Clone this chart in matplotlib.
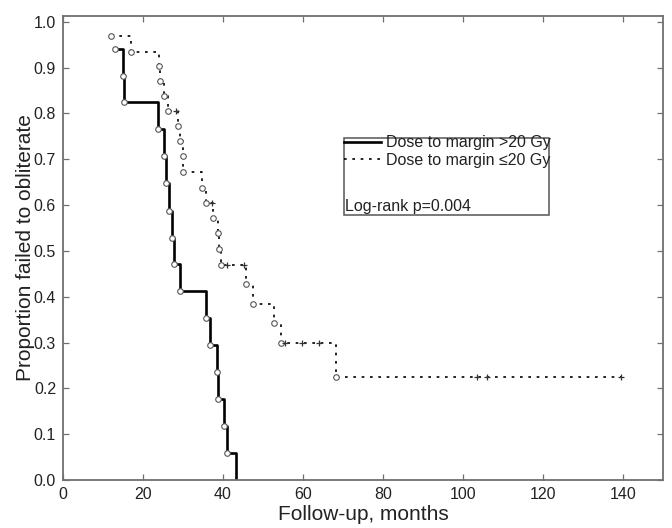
import matplotlib
matplotlib.use('Agg')
import matplotlib.pyplot as plt
from matplotlib.patches import Rectangle
import numpy as np

plt.rcParams['font.family'] = ['Liberation Sans', 'DejaVu Sans']

# dose to margin > 20 Gy: event times (months) and proportion after each event
high_times = [13.0, 15.1, 15.3, 23.8, 25.3, 25.8, 26.5, 27.3, 27.8, 29.3,
              35.8, 36.8, 38.6, 38.8, 40.2, 41.0, 43.2]
high_surv = [0.941, 0.882, 0.824, 0.765, 0.706, 0.647, 0.588, 0.529, 0.471, 0.412,
             0.353, 0.294, 0.235, 0.176, 0.118, 0.059, 0.0]

# dose to margin <= 20 Gy: events
low_times = [11.9, 16.9, 24.0, 24.3, 25.3, 26.3, 28.8, 29.25, 29.9, 30.1,
             34.8, 35.7, 37.6, 38.8, 39.1, 39.5, 45.8, 47.6, 52.75, 54.6, 68.2]
low_surv = [0.968, 0.935, 0.903, 0.871, 0.839, 0.806, 0.773, 0.739, 0.706, 0.672,
            0.638, 0.605, 0.571, 0.538, 0.504, 0.470, 0.427, 0.385, 0.342, 0.299, 0.224]
# censored cases
cens_times = [28.25, 37.2, 40.9, 45.3, 55.4, 59.7, 64.1, 103.4, 106.0, 139.4]
cens_surv = [0.806, 0.605, 0.470, 0.470, 0.299, 0.299, 0.299, 0.224, 0.224, 0.224]

ink = '#222222'
frame = '#707070'

fig = plt.figure(figsize=(6.72, 5.28), dpi=100)
ax = fig.add_axes([63 / 672, 48 / 528, 600 / 672, 464 / 528])

# solid curve
ax.plot(high_times, high_surv, drawstyle='steps-post', color='k', lw=1.9,
        label='Dose to margin >20 Gy')
ax.plot(high_times[:-1], high_surv[:-1], 'o', ls='none', ms=4, mfc='white',
        mec='#555555', mew=0.8)

# dotted curve: merge events and censored points for the step path
t_all = np.concatenate([low_times, cens_times])
s_all = np.concatenate([low_surv, cens_surv])
order = np.lexsort((-s_all, t_all))
ax.plot(t_all[order], s_all[order], drawstyle='steps-post', color='k', lw=1.2,
        dashes=(1.6, 3.4), label='Dose to margin \u226420 Gy')
ax.plot(low_times, low_surv, 'o', ls='none', ms=4, mfc='white',
        mec='#555555', mew=0.8)
ax.plot(cens_times, cens_surv, '+', ls='none', ms=5, color='#333333', mew=0.9)

ax.set_xlim(0, 150)
ax.set_ylim(0, 1.0125)
ax.set_xticks(np.arange(0, 141, 20))
ax.set_yticks(np.round(np.arange(0, 1.01, 0.1), 1))
ax.set_yticklabels(['%.1f' % v for v in np.arange(0, 1.01, 0.1)])

for sp in ax.spines.values():
    sp.set_color(frame)
    sp.set_linewidth(1.3)
ax.tick_params(direction='in', length=4, width=0.9, color=frame,
               top=True, right=True, labelsize=11.5, labelcolor=ink, pad=5)

ax.set_xlabel('Follow-up, months', fontsize=15, color=ink)
ax.set_ylabel('Proportion failed to obliterate', fontsize=15, color=ink)
ax.xaxis.set_label_coords(0.5, -0.075)
ax.yaxis.set_label_coords(-0.063, 0.5)
ax.xaxis.label.set_va('center')
ax.yaxis.label.set_va('center')

# legend box
ax.add_patch(Rectangle((70.25, 0.578), 51.25, 0.168, fill=False,
                       ec='#555555', lw=1.1, zorder=5))
leg = ax.legend(loc='upper left', bbox_to_anchor=(70.25, 0.752),
                bbox_transform=ax.transData, frameon=False, fontsize=11.5,
                handlelength=2.3, handletextpad=0.3, borderpad=0.0,
                borderaxespad=0.0, labelspacing=0.15)
for txt in leg.get_texts():
    txt.set_color(ink)
ax.text(70.6, 0.596, 'Log-rank p=0.004', fontsize=11.5, color=ink,
        ha='left', va='center')

fig.savefig('out.png', dpi=100)
